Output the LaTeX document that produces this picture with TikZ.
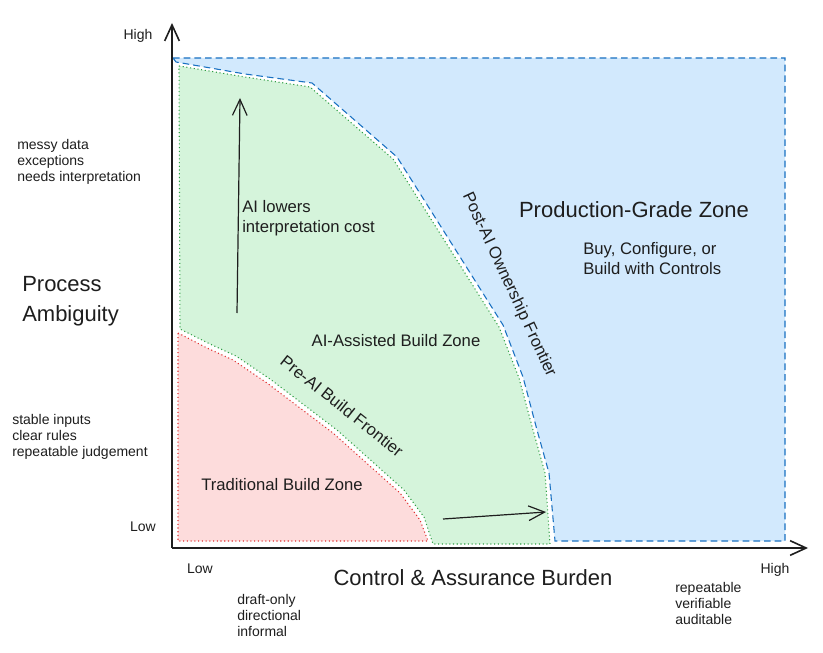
\documentclass[tikz,border=0pt]{standalone}
\usepackage{fontspec}
\setmainfont{Liberation Sans}
\usetikzlibrary{arrows.meta}
\definecolor{bluefill}{HTML}{D2E9FD}
\definecolor{blueline}{HTML}{1971C2}
\definecolor{greenfill}{HTML}{D5F4DB}
\definecolor{greenline}{HTML}{2F9E44}
\definecolor{redfill}{HTML}{FDDCDC}
\definecolor{redline}{HTML}{E03131}
\definecolor{ink}{HTML}{1E1E1E}
\tikzset{
  axis/.style={draw=ink, line width=1.6pt, -{Straight Barb[length=12pt,width=11pt,line width=1.2pt]}},
  hint/.style={draw=ink, line width=0.9pt, -{Straight Barb[length=12pt,width=11pt,line width=0.9pt]}},
  small/.style={font=\fontsize{10.5}{12}\selectfont, text=ink, align=left, inner sep=0pt},
  mid/.style={font=\fontsize{12.5}{15}\selectfont, text=ink, align=left, inner sep=0pt},
  big/.style={font=\fontsize{16.5}{22.5}\selectfont, text=ink, align=left, inner sep=0pt},
}
\begin{document}
\begin{tikzpicture}[x=0.75pt, y=-0.75pt]
\path[use as bounding box, fill=white] (0,0) rectangle (823,652);

% production-grade zone (blue)
\path[fill=bluefill, draw=blueline, line width=0.8pt, dash pattern=on 5pt off 3pt]
  (173,58) -- (785,58) -- (785,541) -- (555,541) -- (549,473) -- (537,430)
  -- (523,377) -- (503,325) -- (397,157) -- (312,83) -- (245,74) -- (176,62) -- cycle;

% AI-assisted zone (green)
\path[fill=greenfill, draw=greenline, line width=0.8pt, dotted]
  (179,66) -- (245,77) -- (310,87) -- (393,159) -- (499,327) -- (519,378)
  -- (533,430) -- (545,473) -- (550,544) -- (433,544) -- (424,517) -- (404,490)
  -- (337,430) -- (270,379) -- (236,356) -- (210,344) -- (180,329) -- cycle;

% traditional zone (red)
\path[fill=redfill, draw=redline, line width=0.8pt, dotted]
  (178,333) -- (207,348) -- (233,360) -- (267,383) -- (333,433) -- (400,493)
  -- (420,520) -- (428,541) -- (178,541) -- cycle;

% axes
\coordinate (origin) at (172,548);
\coordinate (ytop) at (172,23);
\coordinate (xend) at (808,548);
\draw[axis] (origin) -- (ytop);
\draw[axis] (origin) -- (xend);

% hint arrows
\coordinate (upA) at (237,313);
\coordinate (upB) at (240,98);
\draw[hint] (upA) -- (upB);
\coordinate (rtA) at (443,519);
\coordinate (rtB) at (546,512);
\draw[hint] (rtA) -- (rtB);

% axis labels
\node[small] (yhigh) at (138,36) {High};
\node[small] (ylow) at (143,527) {Low};
\node[small] (xlow) at (200,569) {Low};
\node[small] (xhigh) at (775,570) {High};
\node[small, anchor=west] (messy) at (17,162) {messy data\\exceptions\\needs interpretation};
\node[small, anchor=west] (stable) at (12,437) {stable inputs\\clear rules\\repeatable judgement};
\node[small, anchor=west] (draft) at (237,615) {draft-only\\directional\\informal};
\node[small, anchor=west] (repeat) at (675,603) {repeatable\\verifiable\\auditable};
\node[big, anchor=west] (yaxis) at (22,301) {Process\\Ambiguity};
\node[big] (xaxis) at (473,578) {Control \& Assurance Burden};

% zone labels
\node[big] (prod) at (634,210) {Production-Grade Zone};
\node[mid, anchor=west] (buy) at (583,259) {Buy, Configure, or\\Build with Controls};
\node[mid, anchor=west] (lowers) at (242,218) {AI lowers\\interpretation cost};
\node[mid] (assist) at (396,341) {AI-Assisted Build Zone};
\node[mid] (trad) at (282,485) {Traditional Build Zone};
\node[mid, rotate=-38.4] (preai) at (342,406) {Pre-AI Build Frontier};
\node[mid, rotate=-65] (postai) at (509,285) {Post-AI Ownership Frontier};
\end{tikzpicture}
\end{document}
